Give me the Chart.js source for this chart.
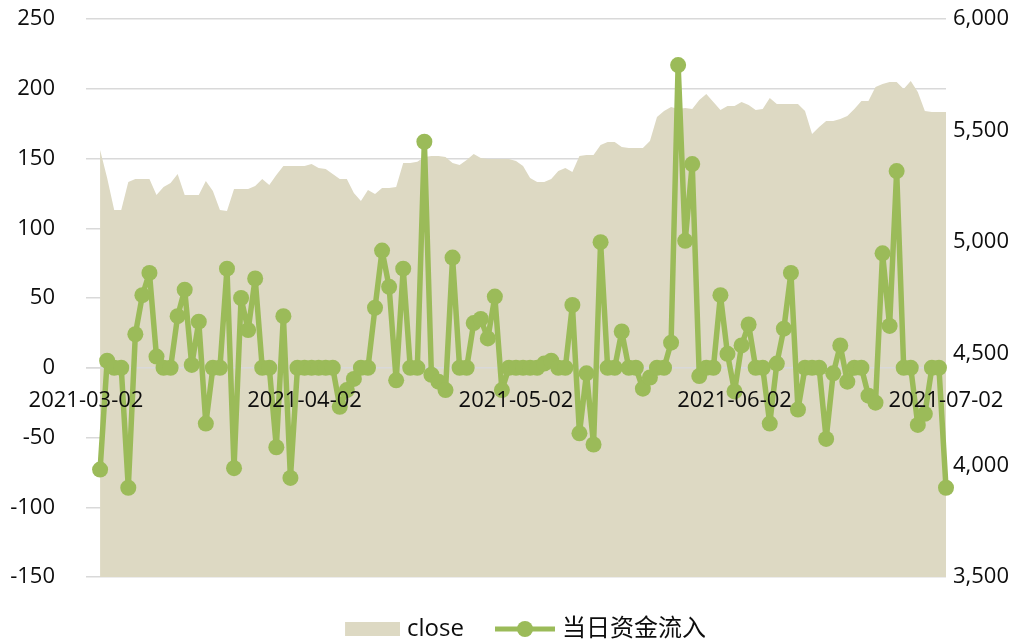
<!DOCTYPE html>
<html>
<head>
<meta charset="utf-8">
<script src="https://cdn.jsdelivr.net/npm/chart.js@4.4.0/dist/chart.umd.min.js"></script>
<style>
  html, body { margin: 0; padding: 0; background: #fff; }
  #wrap { width: 1033px; height: 643px; position: relative; overflow: hidden; }
</style>
</head>
<body>
<div id="wrap"><canvas id="chart"></canvas></div>
<script>
// daily axis, 2021-03-02 .. 2021-07-02
const dates = [
  '2021-03-02','2021-03-03','2021-03-04','2021-03-05','2021-03-06','2021-03-07','2021-03-08','2021-03-09','2021-03-10','2021-03-11',
  '2021-03-12','2021-03-13','2021-03-14','2021-03-15','2021-03-16','2021-03-17','2021-03-18','2021-03-19','2021-03-20','2021-03-21',
  '2021-03-22','2021-03-23','2021-03-24','2021-03-25','2021-03-26','2021-03-27','2021-03-28','2021-03-29','2021-03-30','2021-03-31',
  '2021-04-01','2021-04-02','2021-04-03','2021-04-04','2021-04-05','2021-04-06','2021-04-07','2021-04-08','2021-04-09','2021-04-10',
  '2021-04-11','2021-04-12','2021-04-13','2021-04-14','2021-04-15','2021-04-16','2021-04-17','2021-04-18','2021-04-19','2021-04-20',
  '2021-04-21','2021-04-22','2021-04-23','2021-04-24','2021-04-25','2021-04-26','2021-04-27','2021-04-28','2021-04-29','2021-04-30',
  '2021-05-01','2021-05-02','2021-05-03','2021-05-04','2021-05-05','2021-05-06','2021-05-07','2021-05-08','2021-05-09','2021-05-10',
  '2021-05-11','2021-05-12','2021-05-13','2021-05-14','2021-05-15','2021-05-16','2021-05-17','2021-05-18','2021-05-19','2021-05-20',
  '2021-05-21','2021-05-22','2021-05-23','2021-05-24','2021-05-25','2021-05-26','2021-05-27','2021-05-28','2021-05-29','2021-05-30',
  '2021-05-31','2021-06-01','2021-06-02','2021-06-03','2021-06-04','2021-06-05','2021-06-06','2021-06-07','2021-06-08','2021-06-09',
  '2021-06-10','2021-06-11','2021-06-12','2021-06-13','2021-06-14','2021-06-15','2021-06-16','2021-06-17','2021-06-18','2021-06-19',
  '2021-06-20','2021-06-21','2021-06-22','2021-06-23','2021-06-24','2021-06-25','2021-06-26','2021-06-27','2021-06-28','2021-06-29',
  '2021-06-30','2021-07-01','2021-07-02'
];
const tickDates = ['2021-03-02', '2021-04-02', '2021-05-02', '2021-06-02', '2021-07-02'];

// close (right axis), data starts 2021-03-04
const closeValues = [
  null, null,
  5413, 5288, 5144, 5144, 5270, 5283, 5283, 5283, 5212, 5247,
  5265, 5306, 5212, 5212, 5212, 5274, 5229, 5144, 5140, 5238,
  5238, 5238, 5252, 5283, 5256, 5301, 5341, 5341, 5341, 5341,
  5350, 5332, 5328, 5306, 5283, 5283, 5220, 5185, 5234, 5216,
  5243, 5243, 5247, 5355, 5355, 5360, 5382, 5386, 5386, 5382,
  5355, 5346, 5368, 5395, 5377, 5373, 5373, 5373, 5373, 5364,
  5341, 5288, 5270, 5270, 5283, 5319, 5332, 5315, 5386, 5391,
  5391, 5436, 5449, 5449, 5427, 5422, 5422, 5422, 5453, 5561,
  5588, 5606, 5597, 5601, 5597, 5637, 5664, 5628, 5592, 5610,
  5610, 5628, 5615, 5592, 5597, 5646, 5619, 5619, 5619, 5619,
  5588, 5485, 5516, 5543, 5543, 5552, 5565, 5597, 5633, 5633,
  5695, 5709, 5718, 5718, 5686, 5722, 5673, 5588, 5583, 5583,
  5583
];

// 当日资金流入 (left axis)
const inflowValues = [
  null, null,
  -73, 5, 0, 0, -86, 24, 52, 68, 8, 0,
  0, 37, 56, 2, 33, -40, 0, 0, 71, -72,
  50, 27, 64, 0, 0, -57, 37, -79, 0, 0,
  0, 0, 0, 0, -28, -16, -8, 0, 0, 43,
  84, 58, -9, 71, 0, 0, 162, -5, -10, -16,
  79, 0, 0, 32, 35, 21, 51, -16, 0, 0,
  0, 0, 0, 3, 5, 0, 0, 45, -47, -4,
  -55, 90, 0, 0, 26, 0, 0, -15, -7, 0,
  0, 18, 217, 91, 146, -6, 0, 0, 52, 10,
  -17, 16, 31, 0, 0, -40, 3, 28, 68, -30,
  0, 0, 0, -51, -4, 16, -10, 0, 0, -20,
  -25, 82, 30, 141, 0, 0, -41, -33, 0, 0,
  -86
];

const AREA = '#DDD9C3';
const GREEN = '#9BBB59';
const GRID = '#d9d9d9';
const TEXT = '#0d0d0d';
const FONT = "'Open Sans', 'Noto Sans CJK SC', sans-serif";
const SWATCH_W = 82;

// legend swatches: a bit wider than the legend box so the icon sits close to its text
function makeSwatch(kind) {
  const c = document.createElement('canvas');
  const w = SWATCH_W + 10;
  c.width = w;
  c.height = 18;
  const g = c.getContext('2d');
  if (kind === 'area') {
    g.fillStyle = AREA;
    g.fillRect(w - 55, 2, 55, 14);
  } else {
    g.strokeStyle = GREEN;
    g.lineWidth = 5;
    g.beginPath();
    g.moveTo(w - 60, 9);
    g.lineTo(w, 9);
    g.stroke();
    g.fillStyle = GREEN;
    g.beginPath();
    g.arc(w - 30, 9, 8, 0, Math.PI * 2);
    g.fill();
  }
  return c;
}
const swatches = [makeSwatch('area'), makeSwatch('line')];

// axis line at 0, above the area but under the green line
const zeroLine = {
  id: 'zeroLine',
  afterDatasetDraw(chart, args) {
    if (args.index !== 0) return;
    const { ctx, chartArea, scales } = chart;
    const y = scales.y.getPixelForValue(0);
    ctx.save();
    ctx.strokeStyle = GRID;
    ctx.lineWidth = 1.5;
    ctx.beginPath();
    ctx.moveTo(chartArea.left, y);
    ctx.lineTo(chartArea.right, y);
    ctx.stroke();
    ctx.restore();
  }
};

new Chart(document.getElementById('chart'), {
  type: 'line',
  data: {
    labels: dates,
    datasets: [
      {
        label: 'close',
        data: closeValues,
        yAxisID: 'y1',
        fill: 'start',
        backgroundColor: AREA,
        borderWidth: 0,
        pointRadius: 0,
        tension: 0,
        order: 2
      },
      {
        label: '当日资金流入',
        data: inflowValues,
        yAxisID: 'y',
        borderColor: GREEN,
        backgroundColor: GREEN,
        borderWidth: 5.5,
        borderJoinStyle: 'round',
        pointRadius: 8,
        pointBackgroundColor: GREEN,
        pointBorderWidth: 0,
        tension: 0,
        order: 1
      }
    ]
  },
  options: {
    responsive: true,
    maintainAspectRatio: false,
    animation: false,
    events: [],
    layout: { padding: { left: 10, right: 24, top: 0, bottom: -8 } },
    scales: {
      x: {
        position: { y: 0 },
        afterFit: (scale) => { scale.paddingLeft = 0; scale.paddingRight = 0; },
        grid: { display: false, drawTicks: false },
        border: { display: false },
        ticks: {
          z: 1,
          autoSkip: false,
          maxRotation: 0,
          padding: 20,
          color: TEXT,
          font: { family: FONT, size: 22 },
          callback: (v, i) => tickDates.includes(dates[i]) ? dates[i] : null
        }
      },
      y: {
        position: 'left',
        min: -150,
        max: 250,
        afterFit: (scale) => { scale.width = 76; scale.paddingTop = 19; },
        grid: { color: GRID, lineWidth: 1.5, drawTicks: false },
        border: { display: false },
        ticks: {
          stepSize: 50,
          padding: 31,
          color: TEXT,
          font: { family: FONT, size: 22 }
        }
      },
      y1: {
        position: 'right',
        min: 3500,
        max: 6000,
        afterFit: (scale) => { scale.width = 63; scale.paddingTop = 19; },
        grid: { display: false, drawTicks: false },
        border: { display: false },
        ticks: {
          stepSize: 500,
          padding: 7,
          color: TEXT,
          font: { family: FONT, size: 22 },
          callback: (v) => v.toLocaleString('en-US')
        }
      }
    },
    plugins: {
      tooltip: { enabled: false },
      legend: {
        position: 'bottom',
        title: { display: true, text: '', font: { size: 10 }, padding: { top: 24, bottom: 0 } },
        labels: {
          usePointStyle: true,
          pointStyleWidth: SWATCH_W,
          boxHeight: 18,
          padding: 4,
          color: TEXT,
          font: { family: FONT, size: 24, lineHeight: 1 },
          generateLabels: (chart) => chart.data.datasets.map((ds, i) => ({
            text: ds.label,
            datasetIndex: i,
            pointStyle: swatches[i],
            fontColor: TEXT,
            hidden: false,
            lineWidth: 0,
            strokeStyle: 'rgba(0,0,0,0)',
            fillStyle: 'rgba(0,0,0,0)'
          }))
        }
      }
    }
  },
  plugins: [zeroLine]
});
</script>
</body>
</html>
